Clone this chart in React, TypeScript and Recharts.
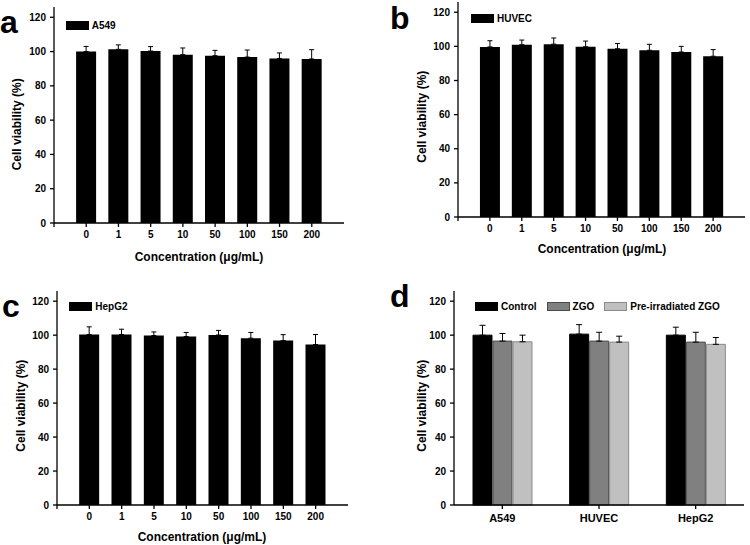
import React from "react";
import { BarChart, Bar, XAxis, YAxis, ErrorBar, Legend, Label } from "recharts";

const FONT = '"Liberation Sans", Arial, sans-serif';

// dose-response panels (a-c)
const doseLabels = ["0", "1", "5", "10", "50", "100", "150", "200"];
const a549Mean = [100.0, 101.3, 100.3, 98.2, 97.6, 96.8, 96.0, 95.7];
const a549Err = [3.0, 2.6, 2.6, 3.9, 3.1, 4.1, 3.2, 5.4];
const huvecMean = [99.7, 101.0, 101.3, 99.8, 98.6, 97.7, 96.7, 94.2];
const huvecErr = [3.6, 2.7, 3.6, 3.3, 3.1, 3.5, 3.3, 3.9];
const hepg2Mean = [100.4, 100.4, 99.8, 99.2, 100.1, 98.2, 96.8, 94.5];
const hepg2Err = [4.5, 3.1, 2.1, 2.4, 2.7, 3.4, 3.5, 5.9];

// panel d
const cellLines = ["A549", "HUVEC", "HepG2"];
const controlMean = [100.0, 100.6, 100.0];
const controlErr = [5.8, 5.6, 4.7];
const zgoMean = [96.5, 96.5, 95.9];
const zgoErr = [4.5, 5.2, 5.8];
const preMean = [96.1, 95.9, 94.6];
const preErr = [3.9, 3.5, 4.0];

const yTicks = [0, 20, 40, 60, 80, 100, 120];
const xTicks = [-1, 0, 1, 2, 3, 4, 5, 6, 7];
const yDomain: [number, number] = [0, 126];

const groupSeries = [
  { key: "control", name: "Control", fill: "#000000", stroke: "#000000" },
  { key: "zgo", name: "ZGO", fill: "#808080", stroke: "#4a4a4a" },
  { key: "pre", name: "Pre-irradiated ZGO", fill: "#c0c0c0", stroke: "#8a8a8a" },
];

const doseRows = (mean: number[], err: number[]) =>
  mean.map((v, i) => ({ x: i, dose: doseLabels[i], v, e: [0, err[i]] }));

const groupRows = cellLines.map((c, i) => ({
  cell: c,
  control: controlMean[i],
  controlE: [0, controlErr[i]],
  zgo: zgoMean[i],
  zgoE: [0, zgoErr[i]],
  pre: preMean[i],
  preE: [0, preErr[i]],
}));

const ax = { stroke: "#000", strokeWidth: 1.3 };
const tickFont = { fill: "#000", fontSize: 10, fontWeight: 700, fontFamily: FONT };
const titleFont = { fill: "#000", fontSize: 12, fontWeight: 700, fontFamily: FONT };

const legendContent = (items: { name: string; fill: string; stroke: string }[]) => () => (
  <div style={{ display: "flex", alignItems: "center", fontFamily: FONT, fontWeight: 700, fontSize: 10, color: "#000", lineHeight: "10px" }}>
    {items.map((it) => (
      <div key={it.name} style={{ display: "flex", alignItems: "center", marginRight: 10 }}>
        <div style={{ width: 23, height: 9, background: it.fill, border: `1px solid ${it.stroke}`, boxSizing: "border-box" }} />
        <span style={{ marginLeft: 3 }}>{it.name}</span>
      </div>
    ))}
  </div>
);

const yTitle = (x: number, y: number) => () => (
  <text x={x} y={y} transform={`rotate(-90 ${x} ${y})`} textAnchor="middle" dominantBaseline="central" style={titleFont}>
    Cell viability (%)
  </text>
);

const xTitle = (x: number, y: number) => () => (
  <text x={x} y={y} textAnchor="middle" style={titleFont}>
    Concentration (μg/mL)
  </text>
);

type Geo = {
  w: number; h: number; yw: number; right: number; top: number; xh: number;
  ytx: number; yty: number; xtx: number; xty: number; lx: number; ly: number;
};

function DosePanel({ mean, err, name, g }: { mean: number[]; err: number[]; name: string; g: Geo }) {
  const data = doseRows(mean, err);
  return (
    <BarChart width={g.w} height={g.h} data={data} margin={{ top: g.top, right: g.right, left: 0, bottom: 0 }} barSize={20}>
      <XAxis dataKey="x" type="number" domain={[-1, 8]} ticks={xTicks} interval={0}
        tickFormatter={(i: number) => doseLabels[i] ?? ""} height={g.xh} tickSize={4} tickMargin={4}
        axisLine={ax} tickLine={ax} tick={tickFont}>
        <Label content={xTitle(g.xtx, g.xty)} />
      </XAxis>
      <XAxis xAxisId="top" orientation="top" type="number" domain={[-1, 8]} height={0} tick={false} tickLine={false} axisLine={ax} />
      <YAxis domain={yDomain} ticks={yTicks} interval={0} width={g.yw} tickSize={4} tickMargin={4} axisLine={ax} tickLine={ax} tick={tickFont}>
        <Label content={yTitle(g.ytx, g.yty)} />
      </YAxis>
      <YAxis yAxisId="right" orientation="right" domain={yDomain} width={0} tick={false} tickLine={false} axisLine={ax} />
      <Legend verticalAlign="middle" align="center" layout="horizontal"
        wrapperStyle={{ left: g.lx, top: g.ly, width: "auto", height: "auto" }}
        content={legendContent([{ name, fill: "#000", stroke: "#000" }])} />
      <Bar dataKey="v" name={name} fill="#000" isAnimationActive={false}>
        <ErrorBar dataKey="e" width={2.5} stroke="#000" strokeWidth={1} direction="y" />
      </Bar>
    </BarChart>
  );
}

function GroupPanel() {
  return (
    <BarChart width={375} height={275} data={groupRows} margin={{ top: 21, right: 6, left: 0, bottom: 0 }} barSize={19} barGap={1}>
      <XAxis dataKey="cell" height={40} tickSize={4} tickMargin={5} axisLine={ax} tickLine={ax} tick={{ ...tickFont, fontSize: 11 }} />
      <XAxis xAxisId="top" dataKey="cell" orientation="top" height={0} tick={false} tickLine={false} axisLine={ax} />
      <YAxis domain={yDomain} ticks={yTicks} interval={0} width={79} tickSize={4} tickMargin={4} axisLine={ax} tickLine={ax} tick={tickFont}>
        <Label content={yTitle(46.7, 135.7)} />
      </YAxis>
      <YAxis yAxisId="right" orientation="right" domain={yDomain} width={0} tick={false} tickLine={false} axisLine={ax} />
      <Legend verticalAlign="middle" align="center" layout="horizontal"
        wrapperStyle={{ left: 100, top: 31.5, width: "auto", height: "auto" }}
        content={legendContent(groupSeries)} />
      {groupSeries.map((s) => (
        <Bar key={s.key} dataKey={s.key} name={s.name} fill={s.fill} stroke={s.stroke} strokeWidth={1} isAnimationActive={false}>
          <ErrorBar dataKey={`${s.key}E`} width={3} stroke="#000" strokeWidth={1} direction="y" />
        </Bar>
      ))}
    </BarChart>
  );
}

const geoA: Geo = { w: 375, h: 270, yw: 54, right: 31, top: 7, xh: 47, ytx: 17.3, yty: 124.3, xtx: 199, xty: 261, lx: 65.7, ly: 20.5 };
const geoB: Geo = { w: 375, h: 270, yw: 83, right: 5, top: 2, xh: 53, ytx: 46.7, yty: 116.7, xtx: 227, xty: 252.6, lx: 96, ly: 13.8 };
const geoC: Geo = { w: 375, h: 275, yw: 57, right: 27, top: 21, xh: 40, ytx: 20.7, yty: 135.7, xtx: 202, xty: 271, lx: 69.3, ly: 31.8 };

const letter = (ch: string, left: number, top: number) => (
  <div style={{ position: "absolute", left, top, fontFamily: FONT, fontWeight: 700, fontSize: 32, lineHeight: "36px", color: "#000" }}>{ch}</div>
);

export default function App() {
  return (
    <div style={{ position: "absolute", left: 0, top: 0, width: 750, height: 545, background: "#fff", overflow: "hidden" }}>
      <div style={{ position: "absolute", left: 0, top: 0 }}>
        <DosePanel mean={a549Mean} err={a549Err} name="A549" g={geoA} />
      </div>
      <div style={{ position: "absolute", left: 375, top: 0 }}>
        <DosePanel mean={huvecMean} err={huvecErr} name="HUVEC" g={geoB} />
      </div>
      <div style={{ position: "absolute", left: 0, top: 270 }}>
        <DosePanel mean={hepg2Mean} err={hepg2Err} name="HepG2" g={geoC} />
      </div>
      <div style={{ position: "absolute", left: 375, top: 270 }}>
        <GroupPanel />
      </div>
      {letter("a", 0, 3.9)}
      {letter("b", 390, 0)}
      {letter("c", 2, 287.6)}
      {letter("d", 390, 277.9)}
    </div>
  );
}
